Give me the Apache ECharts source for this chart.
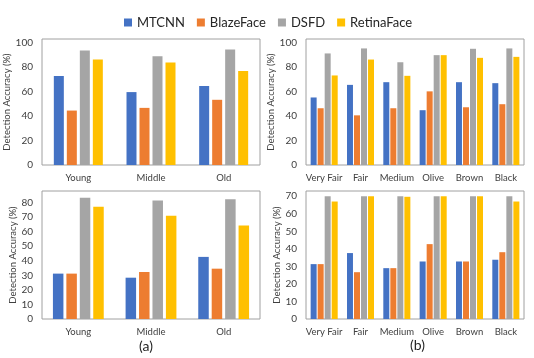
<!DOCTYPE html>
<html>
<head>
<meta charset="utf-8">
<script src="https://cdn.jsdelivr.net/npm/echarts@6/dist/echarts.min.js"></script>
<style>
  html, body { margin: 0; padding: 0; background: #fff; }
  #chart { width: 534px; height: 358px; }
</style>
</head>
<body>
<div id="chart"></div>
<script>
// categories
const ageGroups = ['Young', 'Middle', 'Old'];
const skinTones = ['Very Fair', 'Fair', 'Medium', 'Olive', 'Brown', 'Black'];
const detectors = ['MTCNN', 'BlazeFace', 'DSFD', 'RetinaFace'];
const colors = ['#4472C4', '#ED7D31', '#A5A5A5', '#FFC000'];

// values, one row per detector (MTCNN, BlazeFace, DSFD, RetinaFace)
const ageTop = [
  [72.8, 59.6, 64.6],
  [44.5, 46.7, 53.3],
  [93.7, 89.0, 94.5],
  [86.3, 83.8, 76.9]
];
const skinTop = [
  [55.2, 65.5, 67.7, 44.8, 67.7, 66.9],
  [46.4, 40.6, 46.4, 60.2, 47.2, 49.7],
  [91.2, 95.3, 84.0, 89.8, 95.0, 95.3],
  [73.2, 86.2, 72.9, 89.8, 87.6, 88.4]
];
const ageBottom = [
  [31.2, 28.4, 42.7],
  [31.2, 32.3, 34.6],
  [83.3, 81.4, 82.3],
  [77.1, 70.9, 64.2]
];
const skinBottom = [
  [31.3, 37.6, 29.0, 32.8, 32.8, 33.8],
  [31.3, 26.7, 29.0, 42.7, 32.8, 38.1],
  [70.0, 70.0, 70.0, 70.0, 70.0, 70.0],
  [67.0, 70.0, 69.7, 70.0, 70.0, 67.0]
];

const font = 'Lato';
const textColor = '#404040';

const grids = [
  { left: 42, right: 274, top: 39, bottom: 193 },
  { left: 306, right: 10, top: 39, bottom: 193 },
  { left: 42, right: 274, top: 191, bottom: 39 },
  { left: 306, right: 10, top: 191, bottom: 39 }
];
const panels = [
  { cats: ageGroups, vals: ageTop, max: 103, step: 20, barWidth: 10, gap: '30%' },
  { cats: skinTones, vals: skinTop, max: 103, step: 20, barWidth: 6, gap: '17%' },
  { cats: ageGroups, vals: ageBottom, max: 88, step: 10, barWidth: 10.5, gap: '28%' },
  { cats: skinTones, vals: skinBottom, max: 73, step: 10, barWidth: 6, gap: '17%' }
];

const xAxis = [], yAxis = [], series = [];
panels.forEach(function (p, i) {
  xAxis.push({
    type: 'category',
    gridIndex: i,
    data: p.cats,
    axisLine: { show: false },
    axisTick: { show: false },
    axisLabel: { color: textColor, fontFamily: font, fontSize: 9.5, margin: 8, interval: 0 }
  });
  yAxis.push({
    type: 'value',
    gridIndex: i,
    min: 0,
    max: p.max,
    interval: p.step,
    name: 'Detection Accuracy (%)',
    nameLocation: 'middle',
    nameGap: 23,
    nameTextStyle: { color: textColor, fontFamily: font, fontSize: 9.5 },
    splitLine: { show: false },
    axisLine: { show: false },
    axisTick: { show: false },
    axisLabel: {
      color: textColor, fontFamily: font, fontSize: 10, margin: 9,
      formatter: function (v) { return v % p.step === 0 ? v : ''; }
    }
  });
  detectors.forEach(function (name, k) {
    series.push({
      name: name,
      type: 'bar',
      xAxisIndex: i,
      yAxisIndex: i,
      barWidth: p.barWidth,
      barGap: p.gap,
      itemStyle: { color: colors[k] },
      data: p.vals[k]
    });
  });
});

const chart = echarts.init(document.getElementById('chart'));
chart.setOption({
  animation: false,
  color: colors,
  legend: {
    data: detectors,
    left: 119,
    top: 11,
    itemWidth: 8,
    itemHeight: 8,
    itemGap: 12,
    icon: 'rect',
    textStyle: { color: '#262626', fontFamily: font, fontSize: 13 }
  },
  grid: grids.map(function (g) {
    return Object.assign({ show: true, borderColor: '#a0a0a0', borderWidth: 1 }, g);
  }),
  xAxis: xAxis,
  yAxis: yAxis,
  series: series,
  graphic: [
    { type: 'text', left: 139, top: 339, style: { text: '(a)', fill: '#262626', font: '14px Lato' } },
    { type: 'text', left: 410, top: 338, style: { text: '(b)', fill: '#262626', font: '14px Lato' } }
  ]
});
window.addEventListener('resize', function () { chart.resize(); });
</script>
</body>
</html>
